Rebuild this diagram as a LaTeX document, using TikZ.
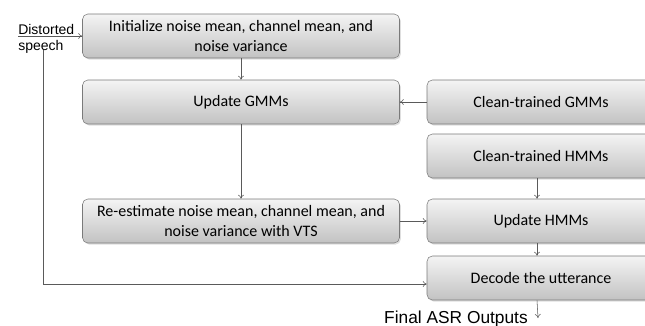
\documentclass[tikz,border=0pt]{standalone}
\usepackage{fontspec}
\setmainfont{Carlito}
\newfontfamily\plainsans{Liberation Sans}
\usetikzlibrary{arrows.meta,shadows}
\definecolor{boxtop}{HTML}{F4F4F4}
\definecolor{boxbot}{HTML}{C2C2C2}
\definecolor{edge}{HTML}{7A7A7A}
\definecolor{wire}{HTML}{5A5A5A}
\begin{document}
\begin{tikzpicture}[x=0.75pt,y=-0.75pt,
	stage/.style={draw=edge, rounded corners=4pt, top color=boxtop, bottom color=boxbot,
		drop shadow={opacity=0.25,shadow xshift=1pt,shadow yshift=-1.2pt},
		align=center, font=\fontsize{12}{15}\selectfont, minimum height=33pt, inner sep=2pt},
	wide/.style={stage, minimum width=237.75pt},
	side/.style={stage, minimum width=171pt},
	flow/.style={draw=wire, -{To[length=3pt,width=4.5pt]}}]
		\useasboundingbox (0,0) rectangle (645,325);
		\clip (0,0) rectangle (645,325);
		% Left column
		\node[wide] (init) at (241,36) {Initialize noise mean, channel mean, and\\noise variance};
		\node[wide] (gmm) at (241,102) {Update GMMs};
		\node[wide] (reest) at (241,221) {Re-estimate noise mean, channel mean, and\\noise variance with VTS};
		% Right column (runs past the right edge)
		\node[side] (cgmm) at (541,102) {Clean-trained GMMs};
		\node[side] (chmm) at (541,156) {Clean-trained HMMs};
		\node[side] (hmm) at (541,221) {Update HMMs};
		\node[side] (decode) at (541,278) {Decode the utterance};
		% Input and output
		\node[anchor=north west, align=left, inner sep=0pt, font=\plainsans\fontsize{10.5}{12}\selectfont] (speech) at (18,24) {Distorted\\speech};
		\coordinate (in) at (18,36);
		\coordinate (fbtop) at (43,50);
		\coordinate (fbcorner) at (43,284);
		\node[anchor=north east, inner sep=0pt, font=\plainsans\fontsize{13}{15}\selectfont] (asr) at (528,311) {Final ASR Outputs};
		\coordinate (out) at (538,318);
		% Connectors
		\draw[flow] (in) -- (init.west);
		\draw[flow] (init) -- (gmm);
		\draw[flow] (cgmm) -- (gmm);
		\draw[flow] (gmm) -- (reest);
		\draw[flow] (reest) -- (hmm);
		\draw[flow] ([xshift=-3pt]chmm.south) -- ([xshift=-3pt]hmm.north);
		\draw[flow] ([xshift=-3pt]hmm.south) -- ([xshift=-3pt]decode.north);
		\draw[flow] (fbtop) -- (fbcorner) -- (decode.west |- fbcorner);
		\draw[flow] ([xshift=-3pt]decode.south) -- (out);
\end{tikzpicture}
\end{document}
